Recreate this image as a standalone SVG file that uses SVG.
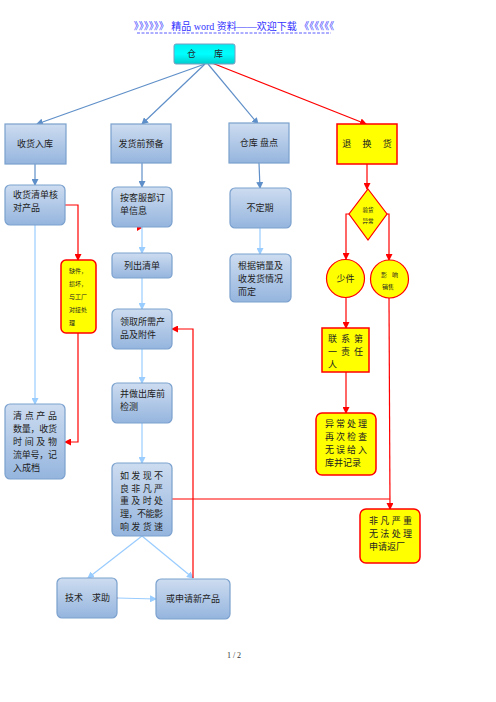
<svg xmlns="http://www.w3.org/2000/svg" width="496" height="702" viewBox="0 0 496 702">
<defs>
<linearGradient id="gb" x1="0" y1="0" x2="0" y2="1"><stop offset="0" stop-color="#cddcf0"/><stop offset="1" stop-color="#95b5de"/></linearGradient>
<linearGradient id="gc" x1="0" y1="0" x2="0" y2="1"><stop offset="0" stop-color="#00eeee"/><stop offset="0.5" stop-color="#00ffff"/><stop offset="1" stop-color="#00cccc"/></linearGradient>
<marker id="ab" markerWidth="7" markerHeight="7" refX="6" refY="3.5" orient="auto" markerUnits="userSpaceOnUse"><path d="M0,0 L7,3.5 L0,7 z" fill="#5f8fc8"/></marker>
<marker id="al" markerWidth="7" markerHeight="7" refX="6" refY="3.5" orient="auto" markerUnits="userSpaceOnUse"><path d="M0,0 L7,3.5 L0,7 z" fill="#99ccff"/></marker>
<marker id="ar" markerWidth="7" markerHeight="7" refX="6" refY="3.5" orient="auto" markerUnits="userSpaceOnUse"><path d="M0,0 L7,3.5 L0,7 z" fill="#ff0000"/></marker>
</defs>
<style>
.t{font-family:"Liberation Serif","Noto Sans CJK SC",serif;font-size:9px;fill:#222}
.s{font-size:6px}
.bb{fill:url(#gb);stroke:#7ba1ce;stroke-width:1.2}
.yb{fill:#ffff00;stroke:#ff0000;stroke-width:1.5}
.lb{stroke:#5f8fc8;stroke-width:1.2;fill:none}
.ll{stroke:#99ccff;stroke-width:1.2;fill:none}
.lr{stroke:#ff0000;stroke-width:1.2;fill:none}
</style>
<rect width="496" height="702" fill="#fff"/>
<text x="234" y="30" text-anchor="middle" style="font-family:'Liberation Serif','Noto Sans CJK SC',serif;font-size:10px;fill:#3333ff">》》》》》》 精品 word 资料——欢迎下载 《《《《《《</text>
<line x1="137" y1="33" x2="331" y2="33" stroke="#3333ff" stroke-width="0.8" stroke-dasharray="3,1.5"/>
<g id="connectors">
<line class="lb" x1="205" y1="64" x2="37" y2="124" marker-end="url(#ab)"/>
<line class="lb" x1="205" y1="64" x2="142" y2="124" marker-end="url(#ab)"/>
<line class="lb" x1="208" y1="64" x2="258" y2="124" marker-end="url(#ab)"/>
<line class="lr" x1="212" y1="63" x2="366" y2="124" marker-end="url(#ar)"/>
<line class="lb" x1="35" y1="164" x2="35" y2="185" marker-end="url(#ab)"/>
<line class="lb" x1="142" y1="163" x2="142" y2="187" marker-end="url(#ab)"/>
<line class="lb" x1="259" y1="163" x2="260" y2="188" marker-end="url(#ab)"/>
<line class="lr" x1="367" y1="164" x2="367" y2="189" marker-end="url(#ar)"/>
<line class="ll" x1="35" y1="225" x2="35" y2="404" marker-end="url(#al)"/>
<polyline class="lr" points="65,205 78,205 78,260" marker-end="url(#ar)"/>
<polyline class="lr" points="78,333 78,442 65,442" marker-end="url(#ar)"/>
<path d="M137,224 L142,228 L137,231 z" fill="#ff0000"/>
<line class="ll" x1="142" y1="227" x2="142" y2="253" marker-end="url(#al)"/>
<line class="ll" x1="260" y1="228" x2="260" y2="254" marker-end="url(#al)"/>
<polyline class="lr" points="349,214 346,214 346,259" marker-end="url(#ar)"/>
<polyline class="lr" points="387,214 389,214 389,260" marker-end="url(#ar)"/>
<line class="ll" x1="142" y1="278" x2="142" y2="309" marker-end="url(#al)"/>
<line class="lr" x1="346" y1="298" x2="346" y2="328" marker-end="url(#ar)"/>
<line class="lr" x1="346" y1="372" x2="346" y2="413" marker-end="url(#ar)"/>
<line class="lr" x1="389" y1="298" x2="390" y2="509" marker-end="url(#ar)"/>
<line class="ll" x1="142" y1="349" x2="142" y2="383" marker-end="url(#al)"/>
<line class="ll" x1="142" y1="423" x2="142" y2="463" marker-end="url(#al)"/>
<line class="lr" x1="172" y1="499" x2="390" y2="499"/>
<line class="ll" x1="142" y1="536" x2="88" y2="578" marker-end="url(#al)"/>
<line class="ll" x1="142" y1="536" x2="193" y2="578" marker-end="url(#al)"/>
<polyline class="lr" points="193,578 193,329 172,329" marker-end="url(#ar)"/>
<line class="ll" x1="117" y1="598" x2="156" y2="599" marker-end="url(#al)"/>
<path d="M112,595 L118,598 L112,601 z" fill="#ff0000"/>
</g>
<g id="n-cangku"><rect x="174" y="44" width="61" height="20" rx="2" fill="url(#gc)" stroke="#7a9cc0" stroke-width="1"/><text class="t" x="205" y="57" text-anchor="middle">仓　　库</text></g>
<g id="n-shouhuo"><rect class="bb" x="5" y="124" width="61" height="40"/><text class="t" x="35" y="147" text-anchor="middle">收货入库</text></g>
<g id="n-fahuo"><rect class="bb" x="111" y="124" width="60" height="39"/><text class="t" x="141" y="147" text-anchor="middle">发货前预备</text></g>
<g id="n-pandian"><rect class="bb" x="229" y="123" width="60" height="40"/><text class="t" x="259" y="146" text-anchor="middle">仓库  盘点</text></g>
<g id="n-tuihuan"><rect class="yb" x="337" y="124" width="60" height="40" stroke-width="1.2"/><text class="t" x="367" y="147" text-anchor="middle">退　 换　 货</text></g>
<g id="n-hedui"><rect class="bb" x="5" y="185" width="60" height="40" rx="5"/><text class="t" x="13" y="198">收货清单核</text><text class="t" x="13" y="211">对产品</text></g>
<g id="n-kefu"><rect class="bb" x="112" y="187" width="60" height="40" rx="5"/><text class="t" x="120" y="201">按客服部订</text><text class="t" x="120" y="214">单信息</text></g>
<g id="n-budingqi"><rect class="bb" x="230" y="188" width="61" height="40" rx="5"/><text class="t" x="260" y="211" text-anchor="middle">不定期</text></g>
<g id="n-yanhuo"><polygon points="368,189 387,214 368,240 349,214" fill="#ffff00" stroke="#ff0000" stroke-width="1.2"/><text class="t s" x="368" y="212" text-anchor="middle" style="font-size:5.5px">验货</text><text class="t s" x="368" y="223" text-anchor="middle" style="font-size:5.5px">异常</text></g>
<g id="n-liechu"><rect class="bb" x="112" y="253" width="60" height="25" rx="4"/><text class="t" x="142" y="269" text-anchor="middle">列出清单</text></g>
<g id="n-genju"><rect class="bb" x="230" y="254" width="61" height="48" rx="5"/><text class="t" x="238" y="269">根据销量及</text><text class="t" x="238" y="282">收发货情况</text><text class="t" x="238" y="295">而定</text></g>
<g id="n-quejian"><rect class="yb" x="61" y="260" width="35" height="73" rx="5" stroke-width="1.2"/><text class="t s" x="69" y="273">缺件，</text><text class="t s" x="69" y="286">损坏，</text><text class="t s" x="69" y="299">与工厂</text><text class="t s" x="69" y="312">对接处</text><text class="t s" x="69" y="325">理</text></g>
<g id="n-shaojian"><circle cx="345.5" cy="278.5" r="19" fill="#ffff00" stroke="#ff0000" stroke-width="1.2"/><text class="t" x="345.5" y="282" text-anchor="middle">少件</text></g>
<g id="n-yingxiang"><circle cx="389.5" cy="279" r="19" fill="#ffff00" stroke="#ff0000" stroke-width="1.2"/><text class="t s" x="381" y="277">影</text><text class="t s" x="392" y="277">响</text><text class="t s" x="382" y="289">销售</text></g>
<g id="n-lingqu"><rect class="bb" x="112" y="309" width="60" height="40" rx="5"/><text class="t" x="120" y="325">领取所需产</text><text class="t" x="120" y="338">品及附件</text></g>
<g id="n-lianxi"><rect class="yb" x="322" y="328" width="47" height="44" stroke-width="1.2"/><text class="t" x="328" y="342" textLength="35" lengthAdjust="spacing">联系第</text><text class="t" x="328" y="355" textLength="35" lengthAdjust="spacing">一责任</text><text class="t" x="328" y="368">人</text></g>
<g id="n-jiance"><rect class="bb" x="112" y="383" width="60" height="40" rx="5"/><text class="t" x="120" y="397">并做出库前</text><text class="t" x="120" y="410">检测</text></g>
<g id="n-qingdian"><rect class="bb" x="5" y="404" width="60" height="75" rx="5"/><text class="t" x="13" y="419" textLength="44" lengthAdjust="spacing">清点产品</text><text class="t" x="13" y="432" textLength="44" lengthAdjust="spacing">数量，收货</text><text class="t" x="13" y="445" textLength="44" lengthAdjust="spacing">时间及物</text><text class="t" x="13" y="458" textLength="44" lengthAdjust="spacing">流单号，记</text><text class="t" x="13" y="471">入成档</text></g>
<g id="n-yichang"><rect class="yb" x="316" y="413" width="60" height="62" rx="6" stroke-width="1.2"/><text class="t" x="325" y="427" textLength="42" lengthAdjust="spacing">异常处理</text><text class="t" x="325" y="440" textLength="42" lengthAdjust="spacing">再次检查</text><text class="t" x="325" y="453" textLength="42" lengthAdjust="spacing">无误给入</text><text class="t" x="325" y="466">库并记录</text></g>
<g id="n-faxian"><rect class="bb" x="112" y="463" width="60" height="73" rx="5"/><text class="t" x="120" y="479" textLength="43" lengthAdjust="spacing">如发现不</text><text class="t" x="120" y="492" textLength="43" lengthAdjust="spacing">良非凡严</text><text class="t" x="120" y="504" textLength="43" lengthAdjust="spacing">重及时处</text><text class="t" x="120" y="517" textLength="43" lengthAdjust="spacing">理，不能影</text><text class="t" x="120" y="530" textLength="43" lengthAdjust="spacing">响发货速</text></g>
<g id="n-fanchang"><rect class="yb" x="360" y="509" width="60" height="54" rx="6" stroke-width="1.2"/><text class="t" x="369" y="524" textLength="43" lengthAdjust="spacing">非凡严重</text><text class="t" x="369" y="537" textLength="43" lengthAdjust="spacing">无法处理</text><text class="t" x="369" y="550">申请返厂</text></g>
<g id="n-jishu"><rect class="bb" x="57" y="578" width="60" height="40" rx="5"/><text class="t" x="65" y="601">技术　求助</text></g>
<g id="n-shenqing"><rect class="bb" x="156" y="579" width="74" height="40" rx="5"/><text class="t" x="166" y="602">或申请新产品</text></g>
<text x="234" y="658" text-anchor="middle" style="font-family:'Liberation Serif',serif;font-size:8px;fill:#333">1 / 2</text>
</svg>
